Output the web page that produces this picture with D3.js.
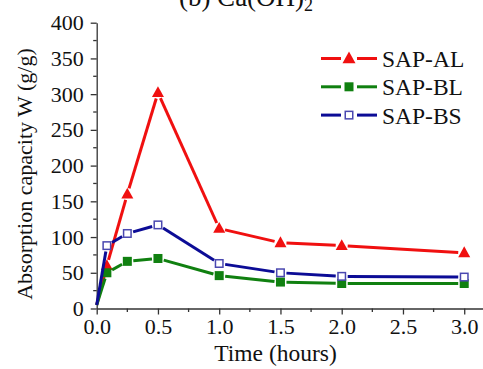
<!DOCTYPE html>
<html>
<head>
<meta charset="utf-8">
<script src="https://cdn.jsdelivr.net/npm/d3@7/dist/d3.min.js"></script>
<style>
  html, body { margin: 0; padding: 0; background: #fff; }
  svg { display: block; }
  text { font-family: "Liberation Serif", "Times New Roman", serif; fill: #111; }
</style>
</head>
<body>
<svg id="chart" width="483" height="369"></svg>
<script>
// Sampling times (hours)
const times = [0, 0.083, 0.25, 0.5, 1.0, 1.5, 2.0, 3.0];
// Absorption capacity W (g/g) for each sample
const sapAL = [5, 60, 160, 302, 112, 92, 88, 78];
const sapBL = [5, 50, 66, 70, 46, 37, 35, 35];
const sapBS = [5, 88, 105, 117, 63, 50, 45, 44];
const seriesNames = ["SAP-AL", "SAP-BL", "SAP-BS"];
const xTicks = [0, 0.5, 1.0, 1.5, 2.0, 2.5, 3.0];
const yTicks = [0, 50, 100, 150, 200, 250, 300, 350, 400];

const svg = d3.select("#chart");
const x = d3.scaleLinear().domain([0, 3.15]).range([96.7, 482.6]);
const y = d3.scaleLinear().domain([0, 400]).range([308.5, 22.7]);

const series = [
  { name: seriesNames[0], values: sapAL, color: "#f01010", marker: "tri" },
  { name: seriesNames[1], values: sapBL, color: "#108010", marker: "sq" },
  { name: seriesNames[2], values: sapBS, color: "#0c0c96", marker: "open" }
];

// Axes
const axisColor = "#333";
const xAxis = d3.axisBottom(x).tickValues(xTicks).tickFormat(d3.format(".1f")).tickSize(6).tickSizeOuter(0);
const yAxis = d3.axisLeft(y).tickValues(yTicks).tickFormat(d3.format("d")).tickSize(6).tickSizeOuter(0);

const gx = svg.append("g").attr("transform", `translate(0,${y(0)})`).call(xAxis);
const gy = svg.append("g").attr("transform", `translate(${x(0)},0)`).call(yAxis);
[gx, gy].forEach(g => {
  g.select(".domain").attr("stroke", axisColor).attr("stroke-width", 1.3);
  g.selectAll(".tick line").attr("stroke", axisColor).attr("stroke-width", 1.3);
  g.selectAll(".tick text").attr("font-family", "Liberation Serif").attr("font-size", 22).attr("fill", "#111");
});
gx.selectAll(".tick text").attr("dy", null).attr("y", 25);
gy.selectAll(".tick text").attr("x", -13);

// Minor ticks
const xMinor = d3.range(0.25, 3.01, 0.5);
svg.append("g").selectAll("line").data(xMinor).join("line")
  .attr("x1", d => x(d)).attr("x2", d => x(d))
  .attr("y1", y(0)).attr("y2", y(0) + 3.5)
  .attr("stroke", axisColor).attr("stroke-width", 1.3);
const yMinor = d3.range(25, 400, 50);
svg.append("g").selectAll("line").data(yMinor).join("line")
  .attr("x1", x(0)).attr("x2", x(0) - 3.5)
  .attr("y1", d => y(d)).attr("y2", d => y(d))
  .attr("stroke", axisColor).attr("stroke-width", 1.3);

// Axis titles
svg.append("text")
  .attr("x", 275.5).attr("y", 361)
  .attr("text-anchor", "middle").attr("font-size", 23.5)
  .text("Time (hours)");
svg.append("text")
  .attr("transform", "translate(32,174) rotate(-90)")
  .attr("text-anchor", "middle").attr("font-size", 22)
  .text("Absorption capacity W (g/g)");

// Panel title (partially above the top edge)
const title = svg.append("text")
  .attr("x", 246).attr("y", 6)
  .attr("text-anchor", "middle").attr("font-size", 27);
title.append("tspan").text("(b) Ca(OH)");
title.append("tspan").attr("font-size", 18).attr("dy", 5).text("2");

// Draw a marker of given type centred at (cx, cy)
function drawMarker(g, type, cx, cy, color, s) {
  if (type === "tri") {
    const h = s * 0.95;
    g.append("path")
      .attr("d", `M${cx},${cy - h * 0.62}L${cx + s / 2 + 0.5},${cy + h * 0.42}L${cx - s / 2 - 0.5},${cy + h * 0.42}Z`)
      .attr("fill", color);
  } else if (type === "sq") {
    g.append("rect").attr("x", cx - s / 2).attr("y", cy - s / 2)
      .attr("width", s).attr("height", s).attr("fill", color);
  } else {
    g.append("rect").attr("x", cx - s / 2 + 0.75).attr("y", cy - s / 2 + 0.75)
      .attr("width", s - 1.5).attr("height", s - 1.5)
      .attr("fill", "#fff").attr("stroke", "#4a48b0").attr("stroke-width", 1.5);
  }
}

// Series lines with small gaps around the symbols, then symbols
const gap = 6;
series.forEach(s => {
  const g = svg.append("g");
  const pts = times.map((t, i) => [x(t), y(s.values[i])]);
  for (let i = 0; i < pts.length - 1; i++) {
    const [x1, y1] = pts[i], [x2, y2] = pts[i + 1];
    const len = Math.hypot(x2 - x1, y2 - y1);
    const g1 = i === 0 ? 0 : gap;
    const g2 = gap;
    if (len <= g1 + g2 + 0.5) continue;
    const ux = (x2 - x1) / len, uy = (y2 - y1) / len;
    g.append("line")
      .attr("x1", x1 + ux * g1).attr("y1", y1 + uy * g1)
      .attr("x2", x2 - ux * g2).attr("y2", y2 - uy * g2)
      .attr("stroke", s.color).attr("stroke-width", 3);
  }
  pts.slice(1).forEach(([cx, cy]) => {
    drawMarker(g, s.marker, cx, cy, s.color, s.marker === "tri" ? 11 : 9);
  });
});

// Legend
const legend = svg.append("g");
series.forEach((s, i) => {
  const ly = 58.5 + i * 28.3;
  legend.append("line").attr("x1", 321).attr("x2", 341).attr("y1", ly).attr("y2", ly)
    .attr("stroke", s.color).attr("stroke-width", 3);
  legend.append("line").attr("x1", 357).attr("x2", 377).attr("y1", ly).attr("y2", ly)
    .attr("stroke", s.color).attr("stroke-width", 3);
  drawMarker(legend, s.marker, 349, ly, s.color, s.marker === "tri" ? 12 : 9);
  legend.append("text").attr("x", 382).attr("y", ly + 8.4)
    .attr("font-size", 23.5).text(s.name);
});
</script>
</body>
</html>
